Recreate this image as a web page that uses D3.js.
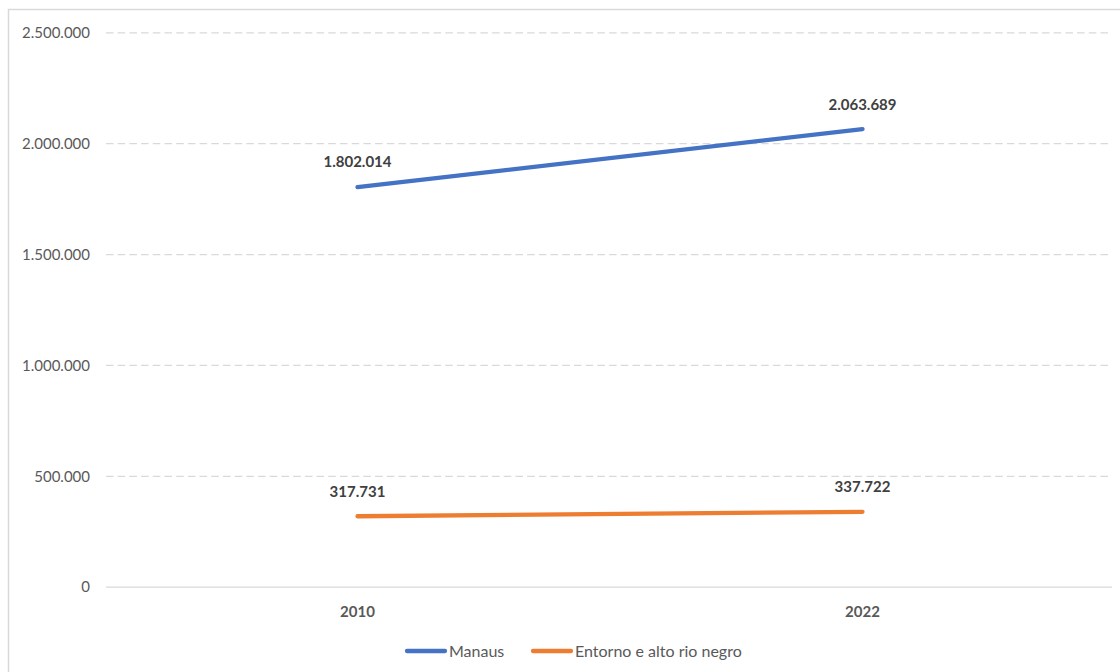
<!DOCTYPE html>
<html>
<head>
<meta charset="utf-8">
<script src="https://cdn.jsdelivr.net/npm/d3@7"></script>
<style>
  html, body { margin: 0; padding: 0; background: #fff; }
  svg { display: block; font-family: Lato, "Open Sans", sans-serif; }
</style>
</head>
<body>
<svg id="chart" width="1120" height="672"></svg>
<script>
// Population: Manaus vs. surroundings and upper Rio Negro
const years = ["2010", "2022"];
const manaus = [1802014, 2063689];
const entorno = [317731, 337722];
const yTicks = [0, 500000, 1000000, 1500000, 2000000, 2500000];
const seriesNames = ["Manaus", "Entorno e alto rio negro"];
const seriesColors = ["#4472C4", "#ED7D31"];

const series = [
  { name: seriesNames[0], color: seriesColors[0], values: manaus, dy: [-20, -19] },
  { name: seriesNames[1], color: seriesColors[1], values: entorno, dy: [-19, -20] }
];

const svg = d3.select("#chart");
const W = 1120, H = 672;
const margin = { left: 105, right: 5, top: 32.3, bottom: H - 586.7 };

// chart frame
svg.append("rect")
  .attr("x", 8.5).attr("y", 9.5)
  .attr("width", W + 20).attr("height", H + 20)
  .attr("fill", "none").attr("stroke", "#D9D9D9").attr("stroke-width", 1.5);

const x = d3.scaleBand().domain(years).range([margin.left, W - margin.right]);
const y = d3.scaleLinear().domain([0, 2500000]).range([H - margin.bottom, margin.top]);

const fmt = v => d3.format(",")(v).replace(/,/g, ".");

// y axis: labels + gridlines
const yAxis = d3.axisLeft(y)
  .tickValues(yTicks)
  .tickFormat(fmt)
  .tickSize(0)
  .tickPadding(0);

const gy = svg.append("g").attr("transform", `translate(${margin.left},0)`).call(yAxis);
gy.select(".domain").remove();
gy.selectAll(".tick text")
  .attr("x", -15)
  .attr("dy", "0.35em")
  .attr("fill", "#595959")
  .style("font-size", "15px")
  .style("font-family", "Lato, sans-serif");
gy.selectAll(".tick").append("line")
  .attr("x1", 1)
  .attr("x2", d => d === 0 ? W - margin.left - 8 : W - margin.left - 12)
  .attr("stroke", "#D9D9D9")
  .attr("stroke-width", 1.3)
  .attr("stroke-dasharray", d => d === 0 ? null : "7.5,4.2");

// x axis labels
const xAxis = d3.axisBottom(x).tickSize(0).tickPadding(0);
const gx = svg.append("g").attr("transform", `translate(0,${y(0)})`).call(xAxis);
gx.select(".domain").remove();
gx.selectAll(".tick text")
  .attr("y", 30)
  .attr("dy", 0)
  .attr("fill", "#595959")
  .style("font-size", "15px")
  .style("font-weight", "bold")
  .style("font-family", "Lato, sans-serif");

// lines
const line = d3.line()
  .x((d, i) => x(years[i]) + x.bandwidth() / 2)
  .y(d => y(d));

series.forEach(s => {
  svg.append("path")
    .datum(s.values)
    .attr("d", line)
    .attr("fill", "none")
    .attr("stroke", s.color)
    .attr("stroke-width", 4.3)
    .attr("stroke-linecap", "round");

  svg.append("g").selectAll("text")
    .data(s.values)
    .join("text")
    .attr("x", (d, i) => x(years[i]) + x.bandwidth() / 2)
    .attr("y", (d, i) => y(d) + s.dy[i])
    .attr("text-anchor", "middle")
    .attr("fill", "#404040")
    .style("font-size", "15px")
    .style("font-weight", "bold")
    .text(d => fmt(d));
});

// legend
const legend = svg.append("g").attr("transform", "translate(0,651)");
const legendX = [407, 533];
series.forEach((s, i) => {
  const g = legend.append("g").attr("transform", `translate(${legendX[i]},0)`);
  g.append("line")
    .attr("x1", 0).attr("x2", 38)
    .attr("stroke", s.color).attr("stroke-width", 4.3).attr("stroke-linecap", "round");
  g.append("text")
    .attr("x", 42).attr("y", 5.5)
    .attr("fill", "#595959")
    .style("font-size", "16px")
    .text(s.name);
});
</script>
</body>
</html>
